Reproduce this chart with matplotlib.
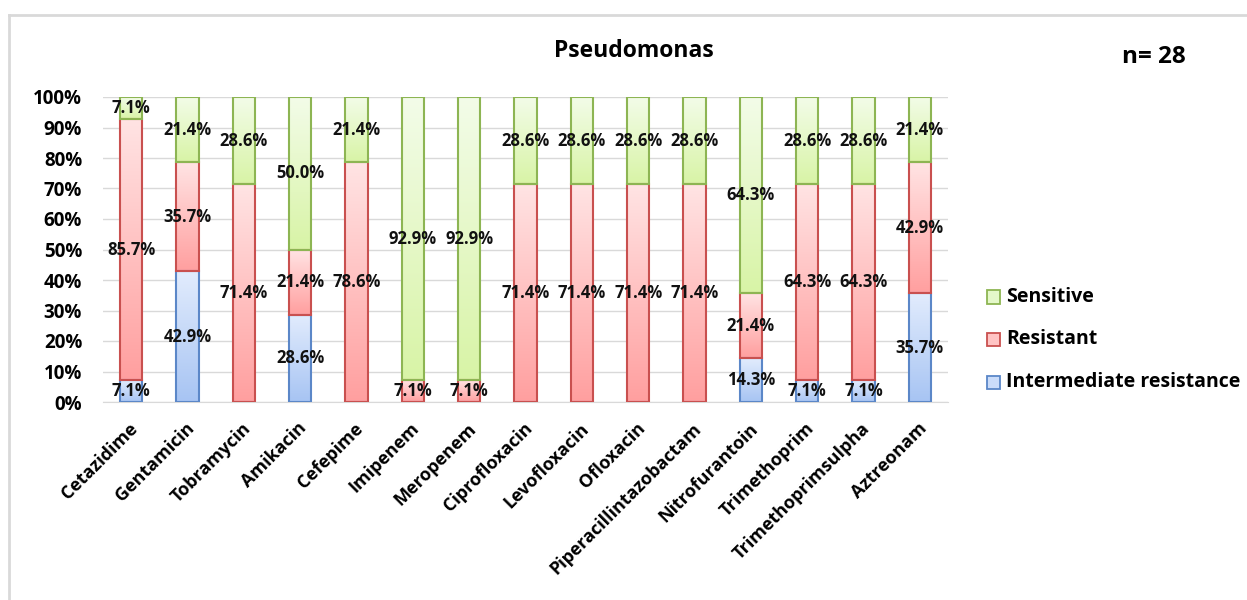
import numpy as np
import matplotlib.pyplot as plt
import matplotlib.transforms as mtransforms
from matplotlib.colors import LinearSegmentedColormap
from matplotlib.patches import Rectangle
from matplotlib.lines import Line2D

plt.rcParams['font.family'] = ['Open Sans', 'DejaVu Sans']
plt.rcParams['font.weight'] = 'bold'

drugs = ["Cetazidime", "Gentamicin", "Tobramycin", "Amikacin", "Cefepime",
         "Imipenem", "Meropenem", "Ciprofloxacin", "Levofloxacin", "Ofloxacin",
         "Piperacillintazobactam", "Nitrofurantoin", "Trimethoprim",
         "Trimethoprimsulpha", "Aztreonam"]
intermediate = [7.1, 42.9, 0, 28.6, 0, 0, 0, 0, 0, 0, 0, 14.3, 7.1, 7.1, 35.7]
resistant = [85.7, 35.7, 71.4, 21.4, 78.6, 7.1, 7.1, 71.4, 71.4, 71.4, 71.4,
             21.4, 64.3, 64.3, 42.9]
sensitive = [7.1, 21.4, 28.6, 50.0, 21.4, 92.9, 92.9, 28.6, 28.6, 28.6, 28.6,
             64.3, 28.6, 28.6, 21.4]
yticks = [0, 10, 20, 30, 40, 50, 60, 70, 80, 90, 100]

series = [
    ("Intermediate resistance", intermediate, "#E2ECFD", "#A7C4F3", "#5B87C8"),
    ("Resistant", resistant, "#FFE4E4", "#FF9F9F", "#C9504F"),
    ("Sensitive", sensitive, "#F3FCE9", "#D8F4A6", "#8DB553"),
]

fig = plt.figure(figsize=(12.47, 6.0), dpi=100)
W, H = 1247, 600
# chart frame
fig.add_artist(Line2D([9 / W, 9 / W], [0, 1 - 15 / H], color="#D9D9D9", lw=2))
fig.add_artist(Line2D([9 / W, 1], [1 - 15 / H, 1 - 15 / H], color="#D9D9D9", lw=2))

ax = fig.add_axes([103 / W, 1 - 402 / H, (948 - 103) / W, (402 - 97) / H])
x = np.arange(len(drugs))
width = 0.4
bottom = np.zeros(len(drugs))

for name, vals, ctop, cbot, edge in series:
    vals = np.array(vals, dtype=float)
    cmap = LinearSegmentedColormap.from_list(name, [cbot, ctop])
    bars = ax.bar(x, vals, width, bottom=bottom, color="none", edgecolor=edge,
                  linewidth=1.5, zorder=3, label=name)
    for rect, v in zip(bars, vals):
        if v <= 0:
            continue
        x0, y0 = rect.get_x(), rect.get_y()
        grad = np.linspace(0, 1, 256).reshape(-1, 1)
        im = ax.imshow(grad, cmap=cmap, origin="lower", aspect="auto",
                       extent=[x0, x0 + rect.get_width(), y0, y0 + rect.get_height()],
                       zorder=2, interpolation="bicubic")
        im.set_clip_path(rect)
        ax.text(x0 + rect.get_width() / 2, y0 + v / 2, f"{v:.1f}%",
                ha="center", va="center", fontsize=12, fontweight="bold",
                color="#111111", zorder=5)
    bottom += vals

ax.set_xlim(-0.5, len(drugs) - 0.5)
ax.set_ylim(0, 100)
ax.set_yticks(yticks)
ax.set_yticklabels([f"{t}%" for t in yticks], fontsize=13.5, fontweight="bold")
ax.set_xticks(x)
ax.set_xticklabels(drugs, rotation=45, ha="right", va="center",
                   rotation_mode="anchor", fontsize=13, fontweight="bold")
ax.tick_params(axis="y", length=0, pad=15)
ax.tick_params(axis="x", length=0, pad=17)
shift = mtransforms.ScaledTranslation(4 / 100, 0, fig.dpi_scale_trans)
for lbl in ax.get_xticklabels():
    lbl.set_transform(lbl.get_transform() + shift)
ax.grid(axis="y", color="#D9D9D9", lw=1, zorder=0)
for s in ["top", "right", "left"]:
    ax.spines[s].set_visible(False)
ax.spines["bottom"].set_color("#D9D9D9")

fig.text(634 / W, 1 - 51 / H, "Pseudomonas", ha="center", va="center",
         fontsize=16.5, fontweight="bold")
fig.text(1154 / W, 1 - 57 / H, "n= 28", ha="center", va="center",
         fontsize=17.5, fontweight="bold")

# legend
leg_items = [("Sensitive", "#E4F8C9", "#8DB553", 297),
             ("Resistant", "#FFC4C4", "#C9504F", 339),
             ("Intermediate resistance", "#CADCFA", "#5B87C8", 382)]
for label, fc, ec, yy in leg_items:
    fig.add_artist(Rectangle((987 / W, 1 - (yy + 6.5) / H), 13 / W, 13 / H,
                             facecolor=fc, edgecolor=ec, lw=1.3,
                             transform=fig.transFigure))
    fig.text(1006 / W, 1 - yy / H, label, ha="left", va="center",
             fontsize=14, fontweight="bold")

fig.savefig("out.png", dpi=100, facecolor="white")
